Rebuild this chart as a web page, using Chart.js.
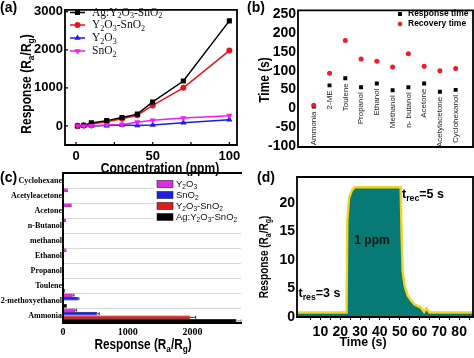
<!DOCTYPE html>
<html><head><meta charset="utf-8">
<script src="https://cdn.jsdelivr.net/npm/chart.js@4.4.1/dist/chart.umd.min.js"></script>
<style>
html,body{margin:0;padding:0;background:#fff;}
#wrap{position:relative;width:474px;height:358px;overflow:hidden;background:#fff;}
canvas{position:absolute;left:0;top:0;pointer-events:none;}
</style></head><body><div id="wrap">
<canvas id="ca" width="474" height="358"></canvas>
<canvas id="cb" width="474" height="358"></canvas>
<canvas id="cc" width="474" height="358"></canvas>
<canvas id="cd" width="474" height="358"></canvas>
</div>
<script>
// ---------- DATA ----------
// (a) response vs concentration
const concPpm = [1, 5, 10, 20, 30, 40, 50, 70, 100];
const respAgY2O3SnO2 = [0, 15, 80, 140, 220, 310, 630, 1180, 2760];
const respY2O3SnO2 = [0, 10, 50, 110, 190, 280, 540, 1000, 1980];
const respY2O3 = [0, 0, 0, 10, 25, 15, 25, 85, 165];
const respSnO2 = [0, 0, 5, 25, 40, 100, 150, 210, 270];
const concTicks = [0, 50, 100];
const concMinorTicks = [25, 75];
const respTicks = [0, 1000, 2000, 3000];

// (b) response / recovery times
const gasNames = ["Ammonia", "2-ME", "Toulene", "Propanol", "Ethanol", "Methanol", "n- butanol", "Acetone", "Acetylacetone", "Cyclohexanol"];
const responseTime = [5, 61, 80, 56, 66, 48, 56, 66, 44, 49];
const recoveryTime = [8, 93, 180, 131, 125, 110, 145, 112, 100, 106];
const timeTicksB = [-100, -50, 0, 50, 100, 150, 200, 250];

// (c) selectivity bars
const gasLabelsC = ["Cyclohexane", "Acetyleacetone", "Acetone", "n-Butanol", "methanol", "Ethanol", "Propanol", "Toulene", "2-methoxyethanol", "Ammonia"];
const selY2O3 = [6, 80, 135, 45, 10, 55, 8, 6, 150, 185];
const selSnO2 = [3, 5, 5, 5, 5, 5, 5, 6, 230, 530];
const selY2O3SnO2 = [3, 5, 5, 5, 5, 5, 5, 6, 15, 1960];
const selAg = [4, 8, 10, 10, 15, 10, 12, 28, 60, 2680];
const errY2O3 = [0, 0, 0, 0, 0, 0, 0, 0, 20, 25];
const errSnO2 = [0, 0, 0, 0, 0, 0, 0, 0, 15, 30];
const errY2O3SnO2 = [0, 0, 0, 0, 0, 0, 0, 0, 0, 90];
const errAg = [0, 0, 0, 0, 0, 0, 0, 0, 0, 70];
const selTicks = [0, 1000, 2000];

// (d) dynamic response at 1 ppm
const timeS = [-3, 23.2, 23.6, 24.5, 26, 27.5, 50.5, 51, 51.5, 52.5, 54, 55.5, 57.5, 60.5, 62.3, 63.5, 65, 90];
const respD = [0.8, 0.8, 17, 21, 22.3, 22.8, 22.8, 14, 8, 5.5, 3.8, 3, 2.2, 1.7, 0.9, 1.5, 0.8, 0.8];
const timeTicksD = [5, 10, 15, 20, 25, 30, 35, 40, 45, 50, 55, 60, 65, 70, 75, 80, 85];
const timeLabelsD = [10, 20, 30, 40, 50, 60, 70, 80];
const respTicksD = [0, 5, 10, 15, 20];

// ---------- HELPERS ----------
const SANS = '"Liberation Sans", Arial, sans-serif';
const SERIF = '"Liberation Serif", "Times New Roman", serif';

function parseRich(s) {
  const out = []; let i = 0, buf = '';
  while (i < s.length) {
    const c = s[i];
    if (c === '_') {
      if (buf) { out.push([buf, false]); buf = ''; }
      if (s[i + 1] === '{') { const j = s.indexOf('}', i); out.push([s.slice(i + 2, j), true]); i = j + 1; }
      else { out.push([s[i + 1], true]); i += 2; }
    } else { buf += c; i++; }
  }
  if (buf) out.push([buf, false]);
  return out;
}
function drawRich(ctx, str, x, y, o) {
  o = Object.assign({size: 12, weight: 'bold', family: SANS, align: 'left', rot: 0, hs: 1, color: '#000'}, o || {});
  const parts = parseRich(str);
  const sub = o.size * 0.7;
  const f = s => `${o.weight} ${s}px ${o.family}`;
  ctx.save();
  ctx.translate(x, y);
  if (o.rot) ctx.rotate(o.rot);
  ctx.scale(o.hs, 1);
  ctx.fillStyle = o.color;
  ctx.textBaseline = 'middle';
  ctx.textAlign = 'left';
  let w = 0;
  parts.forEach(p => { ctx.font = f(p[1] ? sub : o.size); w += ctx.measureText(p[0]).width; });
  let cx = o.align === 'center' ? -w / 2 : (o.align === 'right' ? -w : 0);
  parts.forEach(p => {
    ctx.font = f(p[1] ? sub : o.size);
    ctx.fillText(p[0], cx, p[1] ? o.size * 0.3 : 0);
    cx += ctx.measureText(p[0]).width;
  });
  ctx.restore();
}
function frame(ch, sides, lw) {
  const {left, right, top, bottom} = ch.chartArea;
  const c = ch.ctx;
  c.save(); c.strokeStyle = '#000'; c.lineWidth = lw; c.lineCap = 'square';
  c.beginPath();
  if (sides.includes('l')) { c.moveTo(left, top); c.lineTo(left, bottom); }
  if (sides.includes('b')) { c.moveTo(left, bottom); c.lineTo(right, bottom); }
  if (sides.includes('r')) { c.moveTo(right, top); c.lineTo(right, bottom); }
  if (sides.includes('t')) { c.moveTo(left, top); c.lineTo(right, top); }
  c.stroke(); c.restore();
}
function marker(c, style, x, y, r, color) {
  c.save(); c.fillStyle = color; c.beginPath();
  if (style === 'rect') { const s = r * Math.SQRT1_2; c.rect(x - s, y - s, 2 * s, 2 * s); }
  else if (style === 'circle') { c.arc(x, y, r, 0, Math.PI * 2); }
  else if (style === 'tri') { c.moveTo(x, y - r); c.lineTo(x + r * 0.87, y + r * 0.5); c.lineTo(x - r * 0.87, y + r * 0.5); c.closePath(); }
  else if (style === 'trid') { c.moveTo(x, y + r); c.lineTo(x + r * 0.87, y - r * 0.5); c.lineTo(x - r * 0.87, y - r * 0.5); c.closePath(); }
  c.fill(); c.restore();
}
// chart area placed at (L,T)-(R,B) on a 474x358 canvas; y axis takes all space left of L
function base(L, T, R, B, xH) {
  return {
    responsive: false, animation: false, devicePixelRatio: 1, events: [],
    layout: {autoPadding: false, padding: {left: 0, top: T, right: 474 - R, bottom: 358 - B - xH}},
    plugins: {legend: {display: false}, tooltip: {enabled: false}}
  };
}
const fixW = L => s => { s.width = L; };
const fixH = s => { s.height = 30; };
const setTicks = arr => s => { s.ticks = arr.map(v => ({value: v})); };
const plain = v => String(v);

// ---------- (a) ----------
const colA = {ag: '#000000', ys: '#e8141c', y: '#1c1ce8', s: '#f01cf0'};
function mk(label, ys, color, style, r, rot, order) {
  return {label, data: concPpm.map((x, i) => ({x, y: ys[i]})), borderColor: color, backgroundColor: color,
    pointBackgroundColor: color, pointBorderColor: color, pointStyle: style, pointRadius: r, pointRotation: rot,
    pointBorderWidth: 0, borderWidth: 1.5, order, fill: false, tension: 0};
}
new Chart(document.getElementById('ca'), {
  type: 'line',
  data: {datasets: [
    mk('Ag:Y_2O_3-SnO_2', respAgY2O3SnO2, colA.ag, 'rect', 3.6, 0, 1),
    mk('Y_2O_3-SnO_2', respY2O3SnO2, colA.ys, 'circle', 3, 0, 2),
    mk('Y_2O_3', respY2O3, colA.y, 'triangle', 3.6, 0, 3),
    mk('SnO_2', respSnO2, colA.s, 'triangle', 3.6, 180, 0)
  ]},
  options: Object.assign(base(65, 3, 237, 145, 30), {
    scales: {
      x: {type: 'linear', min: -7.2, max: 105, afterBuildTicks: setTicks(concTicks), afterFit: fixH,
        grid: {display: false, drawTicks: false}, border: {display: false},
        ticks: {color: '#000', padding: 4, maxRotation: 0, autoSkip: false, callback: plain, font: {family: SANS, size: 13, weight: 'bold'}}},
      y: {type: 'linear', min: -500, max: 3050, afterBuildTicks: setTicks(respTicks), afterFit: fixW(65),
        grid: {display: false, drawTicks: false}, border: {display: false},
        ticks: {color: '#000', padding: 2, autoSkip: false, callback: plain, font: {family: SANS, size: 13, weight: 'bold'}}}
    }
  }),
  plugins: [{id: 'decoA', afterDraw(ch) {
    const c = ch.ctx, xs = ch.scales.x, ys = ch.scales.y, a = ch.chartArea;
    frame(ch, 'lbrt', 1.8);
    c.save(); c.strokeStyle = '#000'; c.lineWidth = 1.2; c.beginPath();
    concTicks.concat(concMinorTicks).forEach(v => { const px = xs.getPixelForValue(v); c.moveTo(px, a.bottom); c.lineTo(px, a.bottom - 3); });
    respTicks.forEach(v => { const py = ys.getPixelForValue(v); c.moveTo(a.left, py); c.lineTo(a.left + 3, py); });
    c.stroke(); c.restore();
    // legend
    const rows = [12.5, 25, 38, 51];
    const styles = ['rect', 'circle', 'tri', 'trid'];
    const rads = [3.6, 3, 3.6, 3.6];
    ch.data.datasets.forEach((d, i) => {
      const y = rows[i];
      c.save(); c.strokeStyle = d.borderColor; c.lineWidth = 1.5; c.beginPath(); c.moveTo(70, y); c.lineTo(85, y); c.stroke(); c.restore();
      marker(c, styles[i], 77.5, y, rads[i], d.borderColor);
      drawRich(c, d.label, 92, y, {size: 11.5, weight: 'normal', family: SERIF, color: '#111'});
    });
    drawRich(c, 'Concentration (ppm)', 160, 169, {size: 14, align: 'center', hs: 0.86});
    drawRich(c, 'Response (R_a/R_g)', 27, 84, {size: 14, align: 'center', hs: 0.86, rot: -Math.PI / 2});
    drawRich(c, '(a)', 0, 8, {size: 14});
  }}]
});

// ---------- (b) ----------
new Chart(document.getElementById('cb'), {
  type: 'scatter',
  data: {datasets: [
    {label: 'Response time', data: responseTime.map((v, i) => ({x: i + 1, y: v})), pointStyle: 'rect', pointRadius: 2.8,
      backgroundColor: '#000', borderColor: '#000', pointBorderWidth: 0, order: 1},
    {label: 'Recovery time', data: recoveryTime.map((v, i) => ({x: i + 1, y: v})), pointStyle: 'circle', pointRadius: 2.5,
      backgroundColor: '#ee1c25', borderColor: '#ee1c25', pointBorderWidth: 0, order: 0}
  ]},
  options: Object.assign(base(298, 6, 473, 147, 0), {
    scales: {
      x: {type: 'linear', display: false, min: 0, max: 11.1},
      y: {type: 'linear', min: -102.6, max: 260, afterBuildTicks: setTicks(timeTicksB), afterFit: fixW(298),
        grid: {display: false, drawTicks: false}, border: {display: false},
        ticks: {color: '#000', padding: 2, autoSkip: false, callback: plain, font: {family: SANS, size: 14, weight: 'bold'}}}
    }
  }),
  plugins: [{id: 'decoB', afterDraw(ch) {
    const c = ch.ctx, xs = ch.scales.x, ys = ch.scales.y;
    frame(ch, 'lbrt', 1.8);
    gasNames.forEach((n, i) => {
      const x = xs.getPixelForValue(i + 1);
      const y = ys.getPixelForValue(responseTime[i]) + 5;
      c.save(); c.translate(x, y); c.rotate(-Math.PI / 2);
      c.font = `8px ${SANS}`; c.fillStyle = '#222'; c.textAlign = 'right'; c.textBaseline = 'middle';
      c.fillText(n, 0, 0); c.restore();
    });
    marker(c, 'rect', 400, 14, 2.8, '#000');
    drawRich(c, 'Response time', 408, 14, {size: 8.5});
    marker(c, 'circle', 400, 24, 2.3, '#ee1c25');
    drawRich(c, 'Recovery time', 408, 24, {size: 8.5});
    drawRich(c, 'Time (s)', 265, 80, {size: 14, align: 'center', hs: 0.85, rot: -Math.PI / 2});
    drawRich(c, '(b)', 247, 8, {size: 14});
  }}]
});

// ---------- (c) ----------
const colC = ['#e22ae2', '#1f1fe8', '#e31b1b', '#000000'];
const errC = [errY2O3, errSnO2, errY2O3SnO2, errAg];
function bar(label, data, color, border) {
  return {label, data, backgroundColor: color, borderColor: border, borderWidth: 0.7, categoryPercentage: 0.95, barPercentage: 1.0};
}
new Chart(document.getElementById('cc'), {
  type: 'bar',
  data: {labels: gasLabelsC, datasets: [
    bar('Y_2O_3', selY2O3, colC[0], '#7a127a'),
    bar('SnO_2', selSnO2, colC[1], '#0c0c70'),
    bar('Y_2O_3-SnO_2', selY2O3SnO2, colC[2], '#6e0c0c'),
    bar('Ag:Y_2O_3-SnO_2', selAg, colC[3], '#000')
  ]},
  options: Object.assign(base(63, 173, 241, 323, 30), {
    indexAxis: 'y',
    scales: {
      x: {type: 'linear', min: 0, max: 2750, afterBuildTicks: setTicks(selTicks), afterFit: fixH,
        grid: {display: false, drawTicks: false}, border: {display: false},
        ticks: {color: '#000', padding: 3, maxRotation: 0, autoSkip: false, callback: plain, font: {family: SERIF, size: 10, weight: 'bold'}}},
      y: {type: 'category', afterFit: fixW(63),
        grid: {display: true, drawTicks: false, offset: true, color: '#d9d9d9', lineWidth: 1}, border: {display: false},
        ticks: {color: '#000', padding: 1, autoSkip: false, font: {family: SERIF, size: 8, weight: 'bold'}}}
    }
  }),
  plugins: [{id: 'decoC',
    afterDatasetsDraw(ch) {
      const c = ch.ctx, xs = ch.scales.x;
      c.save(); c.lineWidth = 1;
      ch.data.datasets.forEach((d, di) => {
        const meta = ch.getDatasetMeta(di);
        c.strokeStyle = di === 3 ? '#888' : '#333';
        meta.data.forEach((el, j) => {
          const e = errC[di][j]; if (!e) return;
          const x1 = xs.getPixelForValue(d.data[j] + e);
          c.beginPath(); c.moveTo(el.x, el.y); c.lineTo(x1, el.y); c.moveTo(x1, el.y - 1.5); c.lineTo(x1, el.y + 1.5); c.stroke();
        });
      });
      c.restore();
    },
    afterDraw(ch) {
      const c = ch.ctx;
      frame(ch, 'lbt', 2);
      c.save(); c.fillStyle = '#fff'; c.fillRect(154, 177, 87, 46); c.restore();
      const rows = [184, 195, 206, 217];
      ch.data.datasets.forEach((d, i) => {
        c.save(); c.fillStyle = colC[i]; c.fillRect(157, rows[i] - 3.5, 16, 7);
        c.strokeStyle = '#222'; c.lineWidth = 0.6; c.strokeRect(157, rows[i] - 3.5, 16, 7); c.restore();
        drawRich(c, d.label, 176, rows[i], {size: 9.5, weight: 'normal', color: '#111'});
      });
      drawRich(c, 'Response (R_a/R_g)', 143, 345, {size: 14, align: 'center', hs: 0.84});
      drawRich(c, '(c)', 0, 178, {size: 14});
    }
  }]
});

// ---------- (d) ----------
new Chart(document.getElementById('cd'), {
  type: 'line',
  data: {datasets: [{
    label: '1 ppm', data: timeS.map((t, i) => ({x: t, y: respD[i]})),
    borderColor: '#f2d21e', backgroundColor: '#087a76', fill: 'origin', borderWidth: 2.4, pointRadius: 0, tension: 0
  }]},
  options: Object.assign(base(297, 177, 473, 317, 30), {
    scales: {
      x: {type: 'linear', min: -1.8, max: 87, afterBuildTicks: setTicks(timeTicksD), afterFit: fixH,
        grid: {display: true, drawOnChartArea: false, drawTicks: true, tickLength: 3, color: '#000', lineWidth: 1}, border: {display: false},
        ticks: {color: '#000', padding: 4, maxRotation: 0, autoSkip: false, font: {family: SANS, size: 14, weight: 'bold'},
          callback: v => (timeLabelsD.includes(v) ? String(v) : '')}},
      y: {type: 'linear', min: 0, max: 24.6, afterBuildTicks: setTicks(respTicksD), afterFit: fixW(297),
        grid: {display: false, drawTicks: false}, border: {display: false},
        ticks: {color: '#000', padding: 2, autoSkip: false, callback: plain, font: {family: SANS, size: 14, weight: 'bold'}}}
    }
  }),
  plugins: [{id: 'decoD', afterDraw(ch) {
    const c = ch.ctx;
    frame(ch, 'lbrt', 1.8);
    drawRich(c, '1 ppm', 372, 241, {size: 12, align: 'center', color: '#111'});
    drawRich(c, 't_{rec}=5 s', 402, 195, {size: 12.5});
    drawRich(c, 't_{res}=3 s', 298.5, 294, {size: 12.5});
    drawRich(c, 'Response (R_a/R_g)', 265, 257, {size: 12.5, align: 'center', hs: 0.8, rot: -Math.PI / 2});
    drawRich(c, 'Time (s)', 363, 342, {size: 13, align: 'center', hs: 0.95});
    drawRich(c, '(d)', 257, 178, {size: 14});
  }}]
});
</script>
</body></html>
